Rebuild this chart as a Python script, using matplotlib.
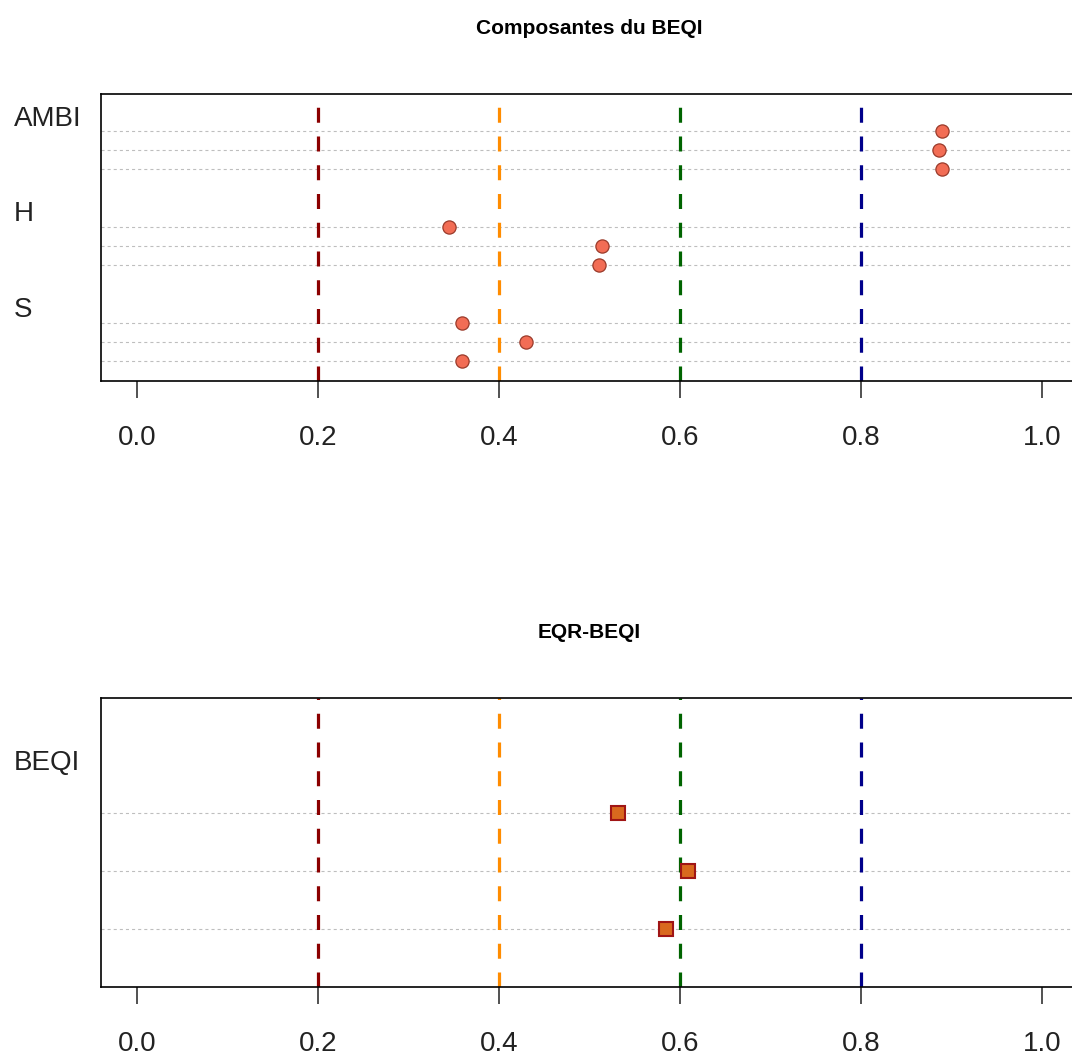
import numpy as np
import matplotlib
matplotlib.use('Agg')
import matplotlib.pyplot as plt
from matplotlib.transforms import blended_transform_factory

# components of the BEQI, three values per group (top to bottom)
comp_groups = ['AMBI', 'H', 'S']
ambi_vals = [0.890, 0.886, 0.890]
h_vals = [0.345, 0.514, 0.510]
s_vals = [0.359, 0.430, 0.359]

# EQR-BEQI values
beqi_group = 'BEQI'
beqi_vals = [0.531, 0.609, 0.585]

# class limits
thresholds = [0.2, 0.4, 0.6, 0.8]
threshold_colors = ['darkred', 'darkorange', 'darkgreen', 'darkblue']

xticks = [0.0, 0.2, 0.4, 0.6, 0.8, 1.0]

plt.rcParams['font.family'] = ['Liberation Sans', 'DejaVu Sans']
plt.rcParams['lines.scale_dashes'] = False

W, H = 1072, 1055
fig = plt.figure(figsize=(W / 100, H / 100), dpi=100)


def px_axes(left, top, right, bottom):
    return fig.add_axes([left / W, 1 - bottom / H, (right - left) / W, (bottom - top) / H])


def setup(ax, title, title_y):
    ax.set_xlim(-0.04, 1.04)
    ax.set_xticks(xticks)
    ax.set_xticklabels(['%.1f' % t for t in xticks])
    ax.tick_params(axis='x', length=12, width=1.1, pad=19.5, labelsize=20,
                   color='#222222', labelcolor='#222222')
    ax.set_yticks([])
    for sp in ax.spines.values():
        sp.set_linewidth(1.2)
    for t, c in zip(thresholds, threshold_colors):
        ax.axvline(t, color=c, lw=2.3, linestyle=(0, (10.8, 9.9)), zorder=2)
    fig.text(589.5 / W, 1 - title_y / H, title, ha='center', va='center',
             fontsize=15, fontweight='bold')


def dotrows(ax, ypos, vals, **kw):
    # light dotted guide line for each row, then the points
    for y in ypos:
        ax.axhline(y, color='#BEBEBE', lw=0.8, linestyle=(0, (2.2, 2.2)), zorder=1)
    ax.plot(vals, ypos, linestyle='none', zorder=3, **kw)


# top panel: dotchart of components
ax1 = px_axes(101, 94, 1078, 381)
setup(ax1, 'Composantes du BEQI', 28)
ax1.set_ylim(13.04, -1.93)
lab_tr1 = blended_transform_factory(fig.transFigure, ax1.transData)
groups = [ambi_vals, h_vals, s_vals]
for g, (name, vals) in enumerate(zip(comp_groups, groups)):
    ypos = [g * 5 + i for i in range(len(vals))]
    dotrows(ax1, ypos, vals, marker='o', ms=9.5, mfc='#F26D55', mec='#9A3A2A', mew=0.9)
    ax1.text(14 / W, g * 5 - 0.65, name, transform=lab_tr1, ha='left', va='center',
             fontsize=20, color='#222222')

# bottom panel: EQR-BEQI
ax2 = px_axes(101, 698, 1078, 987)
setup(ax2, 'EQR-BEQI', 633)
ax2.set_ylim(3.0, -1.983)
lab_tr2 = blended_transform_factory(fig.transFigure, ax2.transData)
ypos = list(range(len(beqi_vals)))
dotrows(ax2, ypos, beqi_vals, marker='s', ms=9.5, mfc='#D9691E', mec='#A01515', mew=1.5)
ax2.text(14 / W, -0.86, beqi_group, transform=lab_tr2, ha='left', va='center',
         fontsize=20, color='#222222')

fig.savefig('out.png', dpi=100)
